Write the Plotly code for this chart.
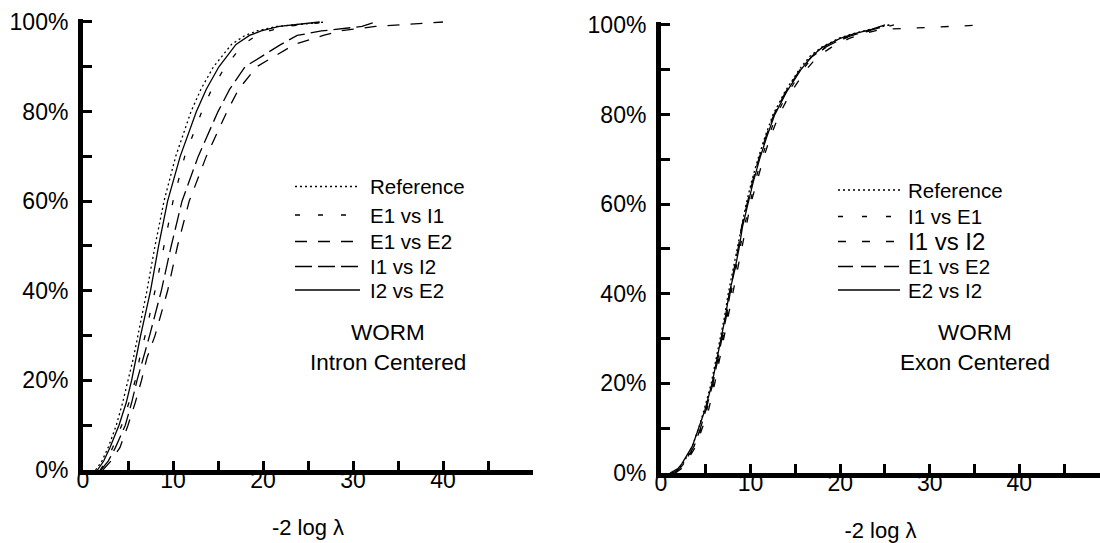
import plotly.graph_objects as go

# ---------------- data: cumulative % of -2 log lambda ----------------
# Left panel: WORM, Intron Centered
L_PCT = [0, 2, 5, 10, 15, 20, 25, 30, 40, 50, 60, 70, 80, 85, 90, 95, 97, 98, 99, 100]
L_REFERENCE = [1.4, 2.1, 2.8, 3.7, 4.4, 5.0, 5.6, 6.1, 7.1, 8.0, 9.0, 10.3, 12.0, 13.1, 14.5, 16.5, 18.0, 19.3, 21.5, 27.0]
L_E1_I1 = [1.9, 2.6, 3.3, 4.3, 5.1, 5.8, 6.3, 6.9, 8.0, 9.0, 10.0, 11.3, 13.2, 14.3, 15.8, 17.8, 19.3, 20.6, 22.6, 27.0]
L_E1_E2 = [2.2, 3.1, 4.1, 5.0, 5.8, 6.5, 7.1, 8.0, 9.4, 10.5, 11.8, 13.7, 16.0, 17.3, 19.3, 23.5, 26.7, 28.5, 32.5, 40.0]
L_I1_I2 = [2.0, 2.8, 3.6, 4.7, 5.4, 6.0, 6.7, 7.4, 8.7, 9.8, 11.0, 12.8, 15.0, 16.3, 18.0, 22.0, 23.8, 26.5, 31.0, 32.5]
L_I2_E2 = [1.6, 2.3, 3.0, 4.0, 4.8, 5.4, 5.9, 6.4, 7.5, 8.4, 9.4, 10.8, 12.6, 13.7, 15.1, 17.0, 18.5, 19.8, 21.8, 26.3]

# Right panel: WORM, Exon Centered
R_PCT = [0, 1, 2, 4, 6, 10, 14, 20, 25, 30, 35, 40, 45, 50, 55, 60, 65, 70, 75, 80, 85, 90, 93, 95, 97, 98, 99, 100]
R_REFERENCE = [1.2, 2.0, 2.4, 3.0, 3.5, 4.2, 4.8, 5.6, 6.1, 6.6, 7.1, 7.5, 8.0, 8.5, 9.0, 9.5, 10.1, 10.8, 11.6, 12.5, 13.8, 15.4, 16.6, 17.9, 19.8, 21.3, 23.3, 25.5]
R_I1_E1 = [1.5, 2.2, 2.6, 3.2, 3.8, 4.5, 5.1, 5.9, 6.4, 6.9, 7.4, 7.8, 8.3, 8.8, 9.3, 9.9, 10.5, 11.2, 12.0, 12.9, 14.2, 15.8, 17.0, 18.4, 20.5, 22.0, 24.0, 26.0]
R_I1_I2 = [1.6, 2.3, 2.7, 3.3, 3.9, 4.6, 5.3, 6.0, 6.5, 7.0, 7.5, 8.0, 8.5, 9.0, 9.5, 10.0, 10.7, 11.4, 12.2, 13.2, 14.5, 16.2, 17.5, 19.0, 21.0, 22.5, 24.5, 36.0]
R_E1_E2 = [1.3, 2.1, 2.5, 3.1, 3.7, 4.4, 5.0, 5.8, 6.3, 6.8, 7.3, 7.7, 8.1, 8.6, 9.0, 9.6, 10.2, 10.9, 11.7, 12.6, 13.9, 15.5, 16.9, 18.3, 20.3, 21.9, 23.8, 25.5]
R_E2_I2 = [1.0, 1.9, 2.3, 2.9, 3.5, 4.2, 4.9, 5.7, 6.2, 6.7, 7.2, 7.6, 8.2, 8.7, 9.1, 9.7, 10.3, 11.0, 11.8, 12.7, 14.0, 15.6, 16.8, 18.0, 20.0, 21.5, 23.5, 25.0]

X_TICKS = [0, 5, 10, 15, 20, 25, 30, 35, 40, 45]
X_TICKTEXT = ["0", "", "10", "", "20", "", "30", "", "40", ""]
Y_TICKS = [0, 10, 20, 30, 40, 50, 60, 70, 80, 90, 100]
Y_TICKTEXT = ["0%", "", "20%", "", "40%", "", "60%", "", "80%", "", "100%"]

LEFT_NAMES = ["Reference", "E1 vs I1", "E1 vs E2", "I1 vs I2", "I2 vs E2"]
RIGHT_NAMES = ["Reference", "I1 vs E1", "I1 vs I2", "E1 vs E2", "E2 vs I2"]

# ---------------- styles ----------------
FONT = "Liberation Sans, Arial, sans-serif"
W, H = 1100, 543
L_DASH = ["2px,3px", "5px,18px", "12px,11px", "17px,6px", "solid"]
R_DASH = ["2px,3px", "5px,19px", "8px,16px", "15px,8px", "solid"]
LW = 1.3

fig = go.Figure()

left_series = [L_REFERENCE, L_E1_I1, L_E1_E2, L_I1_I2, L_I2_E2]
right_series = [R_REFERENCE, R_I1_E1, R_I1_I2, R_E1_E2, R_E2_I2]

for name, xs, d in zip(LEFT_NAMES, left_series, L_DASH):
    fig.add_trace(go.Scatter(x=xs, y=L_PCT, mode="lines", name=name, showlegend=False,
                             line=dict(color="black", width=LW, dash=d),
                             xaxis="x", yaxis="y"))
for name, xs, d in zip(RIGHT_NAMES, right_series, R_DASH):
    fig.add_trace(go.Scatter(x=xs, y=R_PCT, mode="lines", name=name, showlegend=False,
                             line=dict(color="black", width=LW, dash=d),
                             xaxis="x2", yaxis="y2"))


def px_x(p):
    return p / W


def px_y(p):
    return (H - p) / H


axis_common = dict(showline=True, linecolor="#000000", linewidth=5, showgrid=False,
                   zeroline=False, ticks="inside", ticklen=9, tickwidth=2.5, tickcolor="#000000",
                   tickfont=dict(family=FONT, size=23, color="black"), automargin=False)

xcommon = dict(axis_common, tickmode="array", tickvals=X_TICKS, ticktext=X_TICKTEXT,
               ticklabelstandoff=-15,
               title=dict(text="-2 log λ", font=dict(family=FONT, size=22, color="black"), standoff=30))
ycommon = dict(axis_common, tickmode="array", tickvals=Y_TICKS, ticktext=Y_TICKTEXT,
               ticklabelstandoff=5)

fig.update_layout(
    width=W, height=H,
    margin=dict(l=0, r=0, t=0, b=0),
    paper_bgcolor="white", plot_bgcolor="white",
    font=dict(family=FONT, color="black"),
    showlegend=False,
    xaxis=dict(xcommon, domain=[px_x(83), px_x(533)], range=[0, 50], anchor="y"),
    yaxis=dict(ycommon, domain=[px_y(470), px_y(19.3)], range=[0, 100.6], anchor="x"),
    xaxis2=dict(xcommon, domain=[px_x(661), 1.0], range=[0, 49], anchor="y2"),
    yaxis2=dict(ycommon, domain=[px_y(473), px_y(22.3)], range=[0, 100.6], anchor="x2"),
)

# ---------------- hand-drawn legends and panel labels ----------------
shapes = []
annotations = []
L_ROWS = [186.5, 215, 241.5, 266.5, 290]
R_ROWS = [190, 216.5, 241.5, 266.5, 290]
R_SIZES = [20.5, 20.5, 24, 20.5, 20.5]

for name, d, yy in zip(LEFT_NAMES, L_DASH, L_ROWS):
    shapes.append(dict(type="line", xref="paper", yref="paper",
                       x0=px_x(295), x1=px_x(360), y0=px_y(yy), y1=px_y(yy),
                       line=dict(color="black", width=LW, dash=d)))
    annotations.append(dict(text=name, xref="paper", yref="paper", x=px_x(368), y=px_y(yy),
                            xanchor="left", yanchor="middle", showarrow=False,
                            font=dict(family=FONT, size=20.5, color="black")))

for name, d, yy, fs in zip(RIGHT_NAMES, R_DASH, R_ROWS, R_SIZES):
    shapes.append(dict(type="line", xref="paper", yref="paper",
                       x0=px_x(838), x1=px_x(900), y0=px_y(yy), y1=px_y(yy),
                       line=dict(color="black", width=LW, dash=d)))
    annotations.append(dict(text=name, xref="paper", yref="paper", x=px_x(906), y=px_y(yy),
                            xanchor="left", yanchor="middle", showarrow=False,
                            font=dict(family=FONT, size=fs, color="black")))

for txt, cx, cy in [("WORM", 388, 332), ("Intron Centered", 388, 362),
                    ("WORM", 975, 332), ("Exon Centered", 975, 362)]:
    annotations.append(dict(text=txt, xref="paper", yref="paper", x=px_x(cx), y=px_y(cy),
                            xanchor="center", yanchor="middle", showarrow=False,
                            font=dict(family=FONT, size=22.5, color="black")))

fig.update_layout(shapes=shapes, annotations=annotations)

fig.write_html("out.html", config={"displayModeBar": False},
               post_script="document.body.style.margin='0px';")
